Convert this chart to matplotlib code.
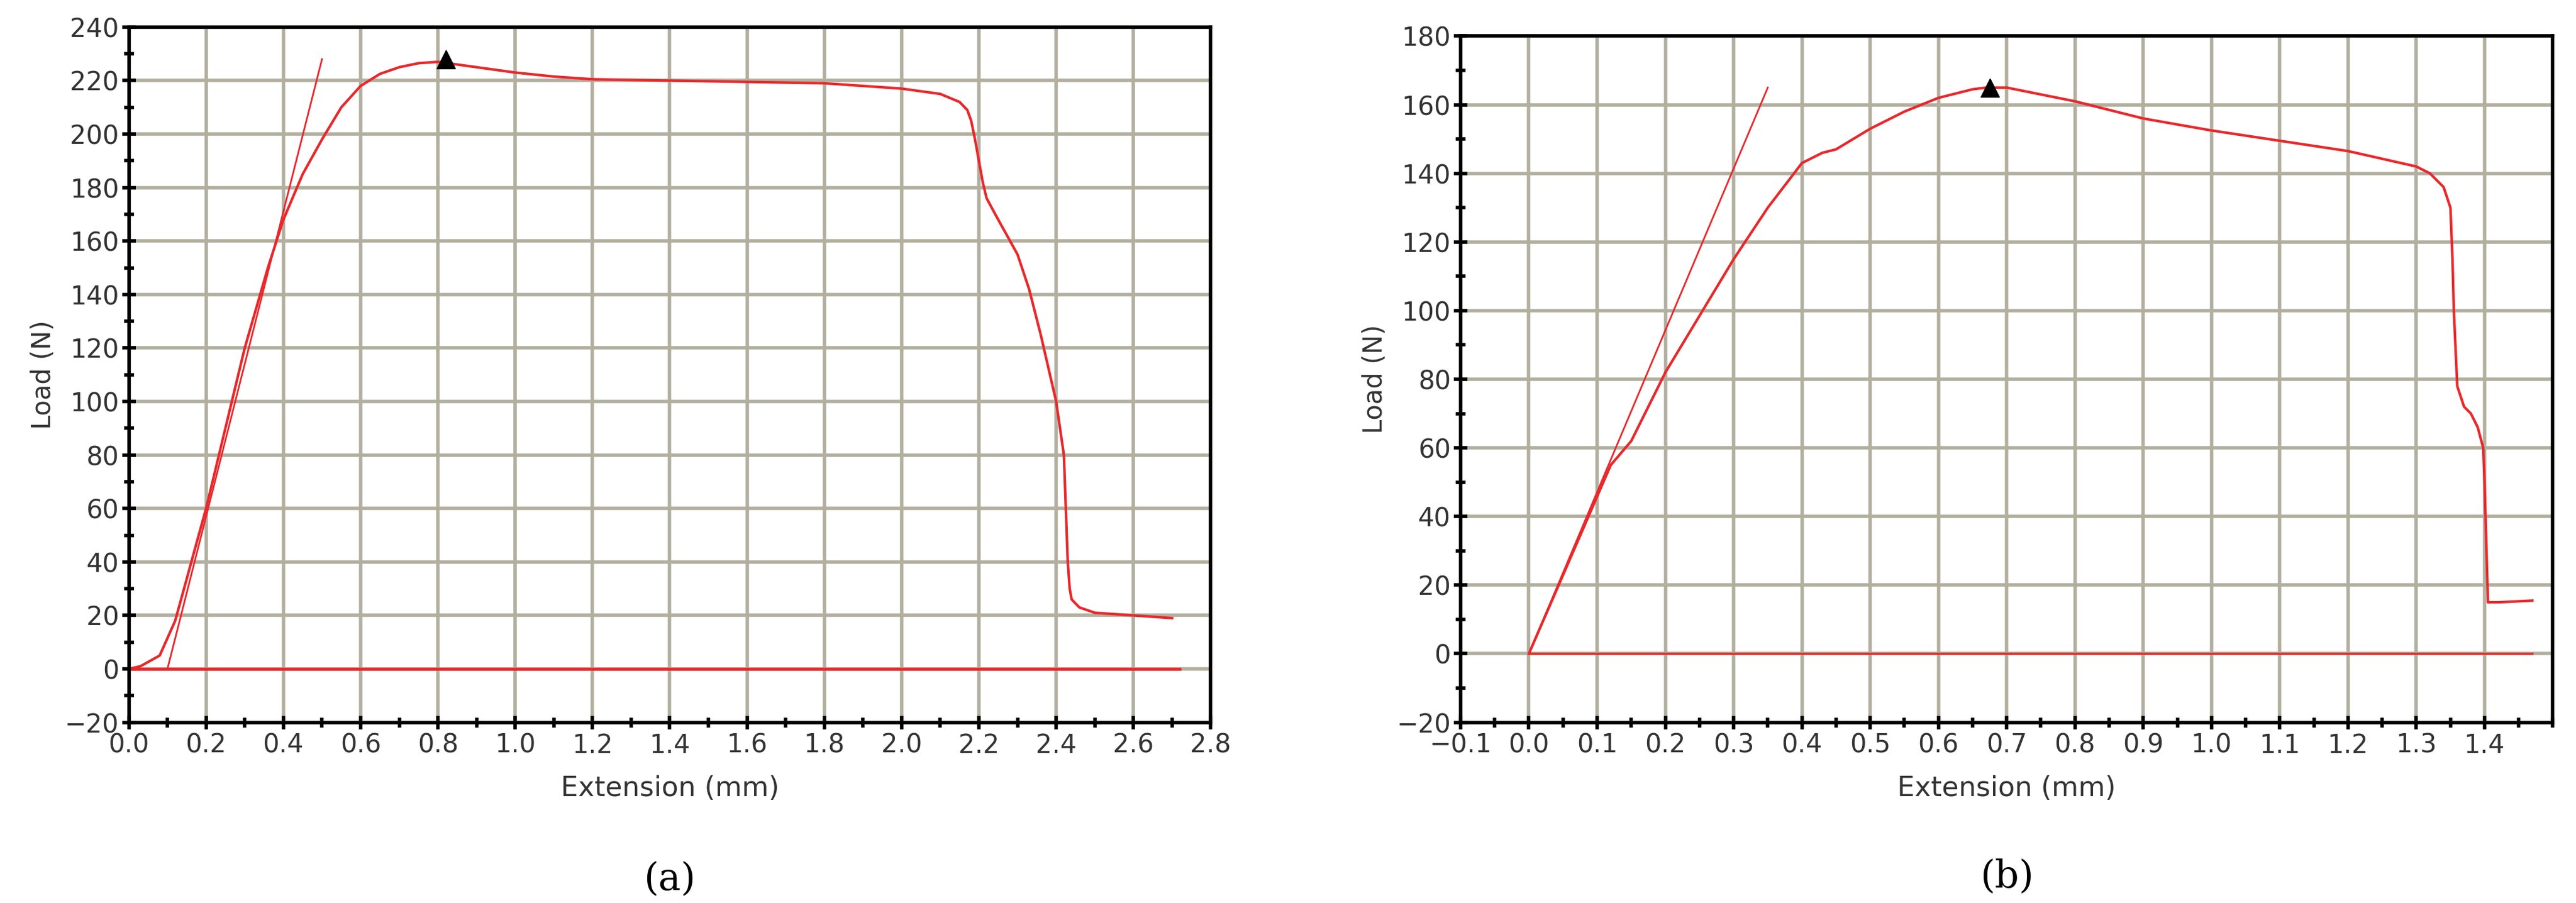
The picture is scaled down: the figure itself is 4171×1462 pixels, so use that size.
import numpy as np
import matplotlib.pyplot as plt
from matplotlib.ticker import MultipleLocator

# panel (a)
a_ext = [0, 0.03, 0.08, 0.12, 0.2, 0.3, 0.36, 0.4, 0.45, 0.5, 0.55, 0.6, 0.65, 0.7, 0.75, 0.8,
         0.9, 1.0, 1.1, 1.2, 1.4, 1.6, 1.8, 2.0, 2.1, 2.15, 2.17, 2.18, 2.19, 2.2, 2.21, 2.22,
         2.25, 2.3, 2.33, 2.36, 2.4, 2.42, 2.425, 2.43, 2.435, 2.44, 2.46, 2.5, 2.6, 2.7]
a_load = [0, 1, 5, 18, 60, 120, 150, 168, 185, 198, 210, 218, 222.5, 225, 226.5, 227,
          225, 223, 221.5, 220.5, 220, 219.5, 219, 217, 215, 212, 209, 205, 198, 190, 182, 176,
          168, 155, 142, 125, 100, 80, 60, 40, 30, 26, 23, 21, 20, 19]
a_tangent_x = [0.1, 0.5]
a_tangent_y = [0, 228]
a_zero_x = [0, 2.72]
a_peak = (0.82, 228)

# panel (b)
b_ext = [0, 0.12, 0.15, 0.2, 0.3, 0.35, 0.4, 0.43, 0.45, 0.5, 0.55, 0.6, 0.65, 0.67, 0.7, 0.8,
         0.9, 1.0, 1.1, 1.2, 1.3, 1.32, 1.34, 1.35, 1.353, 1.355, 1.36, 1.37, 1.38, 1.39, 1.398,
         1.40, 1.405, 1.42, 1.47]
b_load = [0, 55, 62, 82, 115, 130, 143, 146, 147, 153, 158, 162, 164.5, 165, 165, 161,
          156, 152.5, 149.5, 146.5, 142, 140, 136, 130, 115, 100, 78, 72, 70, 66, 60,
          50, 15, 15, 15.5]
b_tangent_x = [0, 0.35]
b_tangent_y = [0, 165]
b_zero_x = [0, 1.47]
b_peak = (0.675, 165)

RED = '#e8282b'
GRID = '#b3af9f'

fig = plt.figure(figsize=(41.71, 14.62), dpi=100)
ax_a = fig.add_axes([0.050, 0.20, 0.420, 0.77])
ax_b = fig.add_axes([0.567, 0.20, 0.424, 0.76])


def style(ax, xlim, ylim, xmaj, xmin, label):
    ax.set_xlim(*xlim)
    ax.set_ylim(*ylim)
    ax.xaxis.set_major_locator(MultipleLocator(xmaj))
    ax.xaxis.set_minor_locator(MultipleLocator(xmin))
    ax.yaxis.set_major_locator(MultipleLocator(20))
    ax.yaxis.set_minor_locator(MultipleLocator(10))
    ax.grid(True, which='major', color=GRID, linewidth=4)
    ax.set_axisbelow(True)
    for s in ax.spines.values():
        s.set_linewidth(4)
        s.set_color('black')
    ax.tick_params(which='major', direction='inout', length=16, width=4, labelsize=30, colors='black')
    ax.tick_params(which='minor', direction='inout', length=12, width=4)
    ax.tick_params(axis='both', labelcolor='#333333')
    ax.set_xlabel('Extension (mm)', fontsize=32, color='#333333', labelpad=20)
    ax.set_ylabel('Load (N)', fontsize=30, color='#333333', labelpad=10)
    ax.text(0.5, -0.225, label, transform=ax.transAxes, ha='center', va='center',
            fontsize=44, family='DejaVu Serif')


style(ax_a, (0, 2.8), (-20, 240), 0.2, 0.1, '(a)')
ax_a.xaxis.set_major_formatter(plt.FuncFormatter(lambda v, p: f'{v:.1f}'))
ax_a.plot(a_zero_x, [0, 0], color=RED, linewidth=3.5)
ax_a.plot(a_tangent_x, a_tangent_y, color=RED, linewidth=2)
ax_a.plot(a_ext, a_load, color=RED, linewidth=3)
ax_a.plot(*a_peak, marker='^', color='black', markersize=22)

style(ax_b, (-0.1, 1.5), (-20, 180), 0.1, 0.05, '(b)')
ax_b.set_xticks(np.arange(-0.1, 1.45, 0.1))
ax_b.xaxis.set_major_formatter(plt.FuncFormatter(lambda v, p: f'{v:.1f}'.replace('-', '\u2212')))
ax_b.plot(b_zero_x, [0, 0], color=RED, linewidth=2.5)
ax_b.plot(b_tangent_x, b_tangent_y, color=RED, linewidth=2)
ax_b.plot(b_ext, b_load, color=RED, linewidth=3)
ax_b.plot(*b_peak, marker='^', color='black', markersize=22)

fig.savefig('out.png', dpi=100)
